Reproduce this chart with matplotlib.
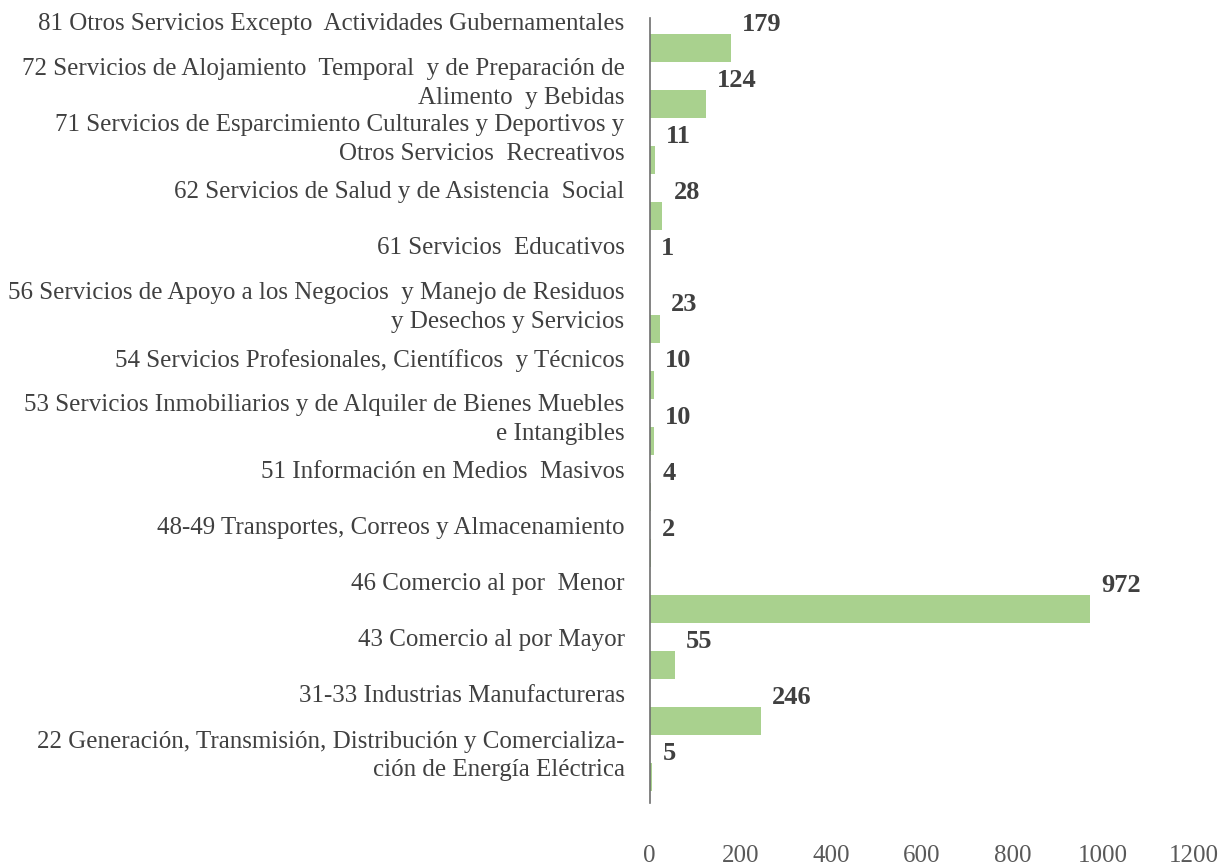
import matplotlib
matplotlib.use('Agg')
import matplotlib.pyplot as plt
import matplotlib.transforms as mtransforms

categories = [
    '81 Otros Servicios Excepto  Actividades Gubernamentales',
    '72 Servicios de Alojamiento  Temporal  y de Preparación de\nAlimento  y Bebidas',
    '71 Servicios de Esparcimiento Culturales y Deportivos y\nOtros Servicios  Recreativos',
    '62 Servicios de Salud y de Asistencia  Social',
    '61 Servicios  Educativos',
    '56 Servicios de Apoyo a los Negocios  y Manejo de Residuos\ny Desechos y Servicios',
    '54 Servicios Profesionales, Científicos  y Técnicos',
    '53 Servicios Inmobiliarios y de Alquiler de Bienes Muebles\ne Intangibles',
    '51 Información en Medios  Masivos',
    '48-49 Transportes, Correos y Almacenamiento',
    '46 Comercio al por  Menor',
    '43 Comercio al por Mayor',
    '31-33 Industrias Manufactureras',
    '22 Generación, Transmisión, Distribución y Comercializa-\nción de Energía Eléctrica',
]
values = [179, 124, 11, 28, 1, 23, 10, 10, 4, 2, 972, 55, 246, 5]
xticks = [0, 200, 400, 600, 800, 1000, 1200]

plt.rcParams['font.family'] = ['Liberation Serif', 'DejaVu Serif']

fig = plt.figure(figsize=(12.28, 8.67), dpi=100)
ax = fig.add_axes([0.529, 0.074, 0.443, 0.905])

pos = list(range(len(values)))
ax.barh(pos, values, height=0.5, color='#a9d18e')

ax.set_xlim(0, 1200)
ax.set_ylim(len(values) - 1 + 0.46, -0.535)
ax.set_xticks(xticks)
ax.set_xticklabels([str(t) for t in xticks])
ax.set_yticks(pos)
ax.set_yticklabels(categories, linespacing=1.4)

ax.tick_params(axis='x', length=0, pad=30, labelsize=18, labelcolor='#595959')
ax.tick_params(axis='y', length=0, pad=18, labelsize=18, labelcolor='#404040')

# labels sit a bit above their bars
shift = mtransforms.ScaledTranslation(0, 0.27, fig.dpi_scale_trans)
for lbl in ax.get_yticklabels():
    lbl.set_transform(lbl.get_transform() + shift)

for s in ['top', 'right', 'bottom']:
    ax.spines[s].set_visible(False)
ax.spines['left'].set_color('#6e6e6e')
ax.spines['left'].set_linewidth(1.2)

for p, v in zip(pos, values):
    ax.annotate(str(v), (v, p), xytext=(8, 17), textcoords='offset points',
                ha='left', va='center', fontsize=19, fontweight='bold',
                color='#404040')

fig.savefig('out.png', dpi=100)
